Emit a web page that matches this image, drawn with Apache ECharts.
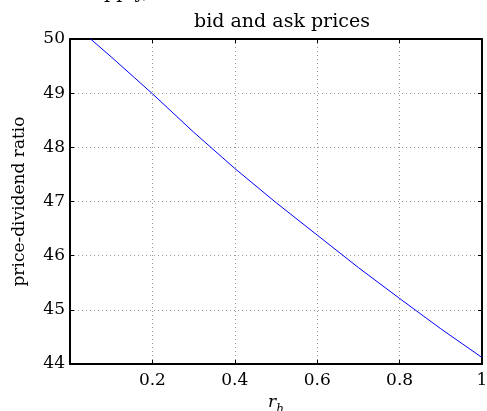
<!DOCTYPE html>
<html>
<head>
<meta charset="utf-8">
<script src="https://cdn.jsdelivr.net/npm/echarts@6/dist/echarts.min.js"></script>
<style>
  html, body { margin: 0; padding: 0; background: #fff; }
  #chart { width: 487px; height: 411px; }
</style>
</head>
<body>
<div id="chart"></div>
<script>
// Price-dividend ratio as a function of r_h
const rh = [0.05, 0.1, 0.2, 0.3, 0.4, 0.5, 0.6, 0.7, 0.8, 0.9, 1.0];
const ratio = [50.0, 49.67, 48.99, 48.28, 47.61, 46.98, 46.38, 45.78, 45.21, 44.65, 44.12];
const xTicks = [0.2, 0.4, 0.6, 0.8, 1];
const yTicks = [44, 45, 46, 47, 48, 49, 50];

const FONT = '"DejaVu Serif", "Liberation Serif", serif';
const chart = echarts.init(document.getElementById('chart'), null, { renderer: 'canvas' });

const grid = { left: 70, right: 5, top: 39, bottom: 47, containLabel: false, outerBoundsMode: 'none' };
const tickStyle = { show: true, inside: true, length: 4, lineStyle: { color: '#000', width: 1 } };
const dotted = { show: true, lineStyle: { color: '#999', type: [1, 3], width: 1 } };
const frame = { show: true, onZero: false, lineStyle: { color: '#000', width: 2 } };

chart.setOption({
  animation: false,
  backgroundColor: '#fff',
  title: {
    text: 'bid and ask prices',
    left: 277, top: 8, textAlign: 'center',
    textStyle: { fontFamily: FONT, fontSize: 19, fontWeight: 'normal', color: '#000' }
  },
  graphic: [{
    type: 'text', left: 82, top: -16,
    style: { text: 'supply,', font: '19px ' + FONT, fill: '#000' }
  }],
  grid: grid,
  xAxis: [{
    type: 'value', min: 0, max: 1, interval: 0.2,
    axisLine: frame,
    axisTick: tickStyle,
    splitLine: dotted,
    axisLabel: {
      color: '#000', fontFamily: FONT, fontSize: 17, margin: 8,
      formatter: v => (xTicks.some(t => Math.abs(t - v) < 1e-9) ? String(+v.toFixed(1)) : '')
    },
    name: '{i|r}{s|h}', nameLocation: 'middle', nameGap: 31,
    nameTextStyle: {
      verticalAlign: 'middle',
      rich: {
        i: { fontFamily: FONT, fontStyle: 'italic', fontSize: 17, color: '#000', lineHeight: 18 },
        s: { fontFamily: FONT, fontStyle: 'italic', fontSize: 12, color: '#000', lineHeight: 18, verticalAlign: 'bottom', padding: [0, 0, -4, 0] }
      }
    }
  }, {
    type: 'value', min: 0, max: 1, interval: 0.2, position: 'top',
    axisLine: frame,
    axisTick: tickStyle, axisLabel: { show: false }, splitLine: { show: false }
  }],
  yAxis: [{
    type: 'value', min: yTicks[0], max: yTicks[yTicks.length - 1], interval: 1,
    axisLine: frame,
    axisTick: tickStyle,
    splitLine: dotted,
    axisLabel: { color: '#000', fontFamily: FONT, fontSize: 17, margin: 5 },
    name: 'price-dividend ratio', nameLocation: 'middle', nameGap: 42,
    nameTextStyle: { fontFamily: FONT, fontSize: 17, color: '#000' }
  }, {
    type: 'value', min: yTicks[0], max: yTicks[yTicks.length - 1], interval: 1, position: 'right',
    axisLine: frame,
    axisTick: tickStyle, axisLabel: { show: false }, splitLine: { show: false }
  }],
  series: [{
    type: 'line',
    data: rh.map((r, i) => [r, ratio[i]]),
    showSymbol: false, symbol: 'none',
    lineStyle: { color: '#0000ff', width: 1 },
    clip: true
  }]
});
</script>
</body>
</html>
